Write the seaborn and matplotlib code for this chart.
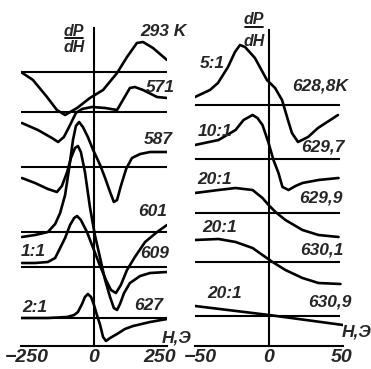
import pandas as pd
import matplotlib
matplotlib.use("Agg")
import matplotlib.pyplot as plt
import matplotlib.font_manager as fm
import seaborn as sns

# ---- left panel: H in Oe (-250..250), dP/dH in arbitrary units ----
left_labels = ["293 K", "571", "587", "601", "609", "627"]
left_ratio = ["", "", "", "", "1:1", "2:1"]
left_base = [274, 234, 179, 114, 79, 28]
left_ticks = [-250, 0, 250]
left_ticklabels = ["\u2212250", "0", "250"]

h_293 = [-250, -209, -161, -127, -99, -58, -14, 31, 79, 113, 147, 168, 202, 250]
s_293 = [0, -8, -25, -38, -43, -36, -26, -18, -1, 15, 29, 30, 24, 12]

h_571 = [-247, -192, -144, -123, -103, -82, -62, -41, -7, 38, 79, 99, 123, 140, 168, 216, 250]
s_571 = [-11, -18, -26, -30, -25, -13, -1, 3, 5, 4, 2, 12, 24, 25, 22, 15, 14]

h_587 = [-247, -202, -158, -127, -110, -92, -79, -65, -55, -45, -31, -14, 3, 21, 38, 55,
         68, 79, 89, 103, 123, 158, 192, 250]
s_587 = [-11, -16, -22, -25, -19, -5, 9, 19, 21, 15, -5, -40, -68, -91, -113, -130,
         -141, -143, -137, -126, -116, -109, -106, -105]

h_601 = [-247, -202, -158, -133, -116, -99, -86, -72, -62, -51, -38, -21, -3, 21, 38, 55,
         68, 79, 92, 110, 130, 158, 192, 250]
s_601 = [-5, -3, 0, 8, 19, 37, 62, 92, 106, 110, 105, 95, 82, 67, 54, 40,
         30, 32, 46, 63, 74, 78, 80, 80]

h_609 = [-247, -202, -158, -133, -116, -99, -82, -68, -58, -45, -24, -3, 21, 41, 58, 75,
         92, 113, 140, 175, 216, 250]
s_609 = [4, 4, 5, 9, 19, 29, 42, 49, 51, 47, 35, 19, 1, -13, -23, -26,
         -18, -3, 10, 25, 35, 42]

h_627 = [-250, -158, -92, -68, -55, -41, -31, -21, -10, 0, 10, 21, 31, 41, 55, 79,
         106, 134, 192, 250]
s_627 = [0, 0, 1, 3, 6, 14, 21, 24, 21, 13, 3, -7, -19, -23, -20, -16,
         -11, -8, -4, -1]

# ---- right panel: H in Oe (-50..50) ----
right_labels = ["628,8K", "629,7", "629,9", "630,1", "630,9"]
right_ratio = ["5:1", "10:1", "20:1", "20:1", "20:1"]
right_base = [241, 187, 133, 84, 30]
right_ticks = [-50, 0, 50]
right_ticklabels = ["\u221250", "0", "50"]

h_6288 = [-50, -39.9, -34.5, -27.7, -23, -19.6, -16.2, -9.5, -1.4, 4.1, 8.8, 12.8, 15.5,
          19.6, 26.4, 33.1, 46.6]
s_6288 = [8, 15, 22, 38, 53, 60, 58, 47, 25, 17, 5, -15, -28, -37, -32, -23, -10]

h_6297 = [-50, -34.1, -22.6, -17.2, -11.1, -7.8, -4.4, -0.3, 3.0, 6.4, 9.1, 13.2, 17.9,
          22.6, 33.4, 47.0]
s_6297 = [14, 19, 29, 39, 44, 41, 34, 16, -1, -14, -28, -31, -27, -24, -21, -19]

h_6299 = [-50, -34.1, -22.6, -11.1, -4.4, -0.3, 4.4, 11.1, 22.6, 33.4, 47.0]
s_6299 = [20, 23, 25, 23, 15, 8, 1, -7, -17, -22, -24]

h_6301 = [-50, -34.1, -22.6, -11.1, -4.4, 2.4, 11.1, 22.6, 33.4, 48.3]
s_6301 = [22, 23, 20, 14, 7, 0, -8, -16, -21, -22]

h_6309 = [-50, 0, 50]
s_6309 = [10, 1, -9]

left_curves = [(h_293, s_293), (h_571, s_571), (h_587, s_587),
               (h_601, s_601), (h_609, s_609), (h_627, s_627)]
right_curves = [(h_6288, s_6288), (h_6297, s_6297), (h_6299, s_6299),
                (h_6301, s_6301), (h_6309, s_6309)]


def to_frame(curves, bases, labels):
    rows = []
    for (hs, ss), b, lab in zip(curves, bases, labels):
        for h, s in zip(hs, ss):
            rows.append({"H": h, "y": b + s, "T": lab})
    return pd.DataFrame(rows)


sns.set_style("white")
names = {f.name for f in fm.fontManager.ttflist}
FONT = "Liberation Sans Narrow" if "Liberation Sans Narrow" in names else "Liberation Sans"
plt.rcParams["font.family"] = [FONT, "DejaVu Sans"]
plt.rcParams["font.style"] = "italic"
plt.rcParams["font.weight"] = "bold"

fig = plt.figure(figsize=(3.71, 3.69), dpi=100)
fig.patch.set_facecolor("white")
ax1 = fig.add_axes([21 / 371, 23 / 369, 146 / 371, 346 / 369])
ax2 = fig.add_axes([195 / 371, 23 / 369, 148 / 371, 346 / 369])

LW = 1.9
TXT = dict(fontsize=12.5, fontstyle="italic", fontweight="bold", ha="center", va="center")
TICK = dict(fontsize=14, fontstyle="italic", fontweight="bold", ha="center", va="center")
FRAC = dict(fontsize=11.5, fontstyle="italic", fontweight="bold", ha="center", va="center")


def setup(ax, xmax, ytop, ticks):
    ax.set_xlim(-xmax, xmax)
    ax.set_ylim(0, 346)
    ax.set_facecolor("none")
    for side in ["top", "right"]:
        ax.spines[side].set_visible(False)
    ax.spines["left"].set_position(("data", 0))
    ax.spines["left"].set_bounds(0, ytop)
    ax.spines["bottom"].set_bounds(-xmax, xmax)
    for side in ["left", "bottom"]:
        ax.spines[side].set_linewidth(1.5)
        ax.spines[side].set_color("black")
    ax.set_yticks([])
    ax.set_xticks(ticks)
    ax.set_xticklabels([])
    ax.tick_params(axis="x", direction="in", length=6, width=1.5)
    ax.set_xlabel("")
    ax.set_ylabel("")


# left panel
df1 = to_frame(left_curves, left_base, left_labels)
ax1.hlines(left_base, -250, 250, color="black", lw=1.5)
sns.lineplot(data=df1, x="H", y="y", units="T", estimator=None, sort=False,
             color="black", lw=LW, ax=ax1)
setup(ax1, 250, 318, left_ticks)

# tick labels sit slightly inward of the end ticks in the original
for x, lab in zip([-229, 0, 226], left_ticklabels):
    ax1.text(x, -11, lab, clip_on=False, **TICK)

left_label_pos = [(236, 315), (226, 259), (219, 207), (202, 134), (209, 92), (188, 40)]
left_ratio_pos = [None, None, None, None, (-209, 94), (-202, 39)]
for lab, (x, y) in zip(left_labels, left_label_pos):
    ax1.text(x, y, lab, **TXT)
for r, p in zip(left_ratio, left_ratio_pos):
    if r:
        ax1.text(p[0], p[1], r, **TXT)
ax1.text(284, 8, "H,Э", **TXT)
ax1.text(-68, 314, "dP", **FRAC)
ax1.plot([-99, -38], [308, 308], color="black", lw=1.3, clip_on=False)
ax1.text(-68, 298, "dH", **FRAC)

# right panel
df2 = to_frame(right_curves, right_base, right_labels)
ax2.hlines(right_base, -50, 48, color="black", lw=1.5)
sns.lineplot(data=df2, x="H", y="y", units="T", estimator=None, sort=False,
             color="black", lw=LW, ax=ax2)
setup(ax2, 50, 316, right_ticks)

for x, lab in zip([-46.6, 0, 49.3], right_ticklabels):
    ax2.text(x, -11, lab, clip_on=False, **TICK)

right_label_pos = [(34.5, 260), (36.5, 199), (35.1, 148), (35.8, 96), (41.2, 44)]
right_ratio_pos = [(-38.5, 283), (-36.5, 215), (-36.5, 166), (-33.1, 119), (-29.7, 53)]
for lab, (x, y) in zip(right_labels, right_label_pos):
    ax2.text(x, y, lab, **TXT)
for r, (x, y) in zip(right_ratio, right_ratio_pos):
    ax2.text(x, y, r, **TXT)
ax2.text(59.5, 14, "H,Э", **TXT)
ax2.text(-10, 326, "dP", **FRAC)
ax2.plot([-16, -4], [319, 319], color="black", lw=1.3, clip_on=False)
ax2.text(-10, 304, "dH", **FRAC)

fig.savefig("out.png", dpi=100)
